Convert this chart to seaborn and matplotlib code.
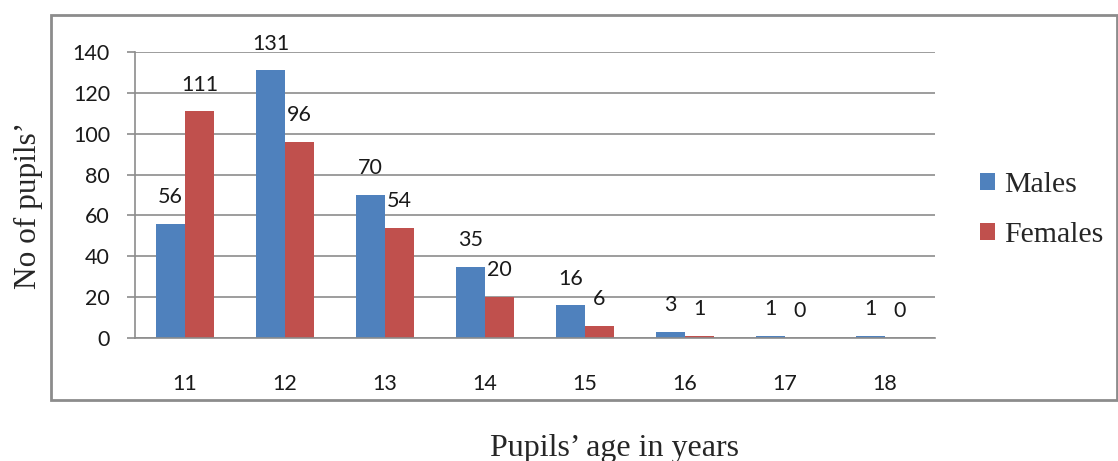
import pandas as pd
import seaborn as sns
import matplotlib.pyplot as plt
from matplotlib.patches import Rectangle, Patch

# Pupils per age, by sex
ages = ['11', '12', '13', '14', '15', '16', '17', '18']
males = [56, 131, 70, 35, 16, 3, 1, 1]
females = [111, 96, 54, 20, 6, 1, 0, 0]
series = ['Males', 'Females']
colors = ['#4F81BD', '#C0504D']

df = pd.DataFrame({
    'age': ages * 2,
    'sex': ['Males'] * len(ages) + ['Females'] * len(ages),
    'count': males + females,
})

sns.set_style("white")
plt.rcParams['font.family'] = ['Lato', 'DejaVu Sans']

fig = plt.figure(figsize=(11.18, 4.61), dpi=100)
ax = fig.add_axes([135 / 1118, 1 - 338 / 461, 800 / 1118, 286 / 461])

sns.barplot(data=df, x='age', y='count', hue='sex', hue_order=series,
            palette=colors, width=0.58, gap=0, saturation=1,
            edgecolor='none', ax=ax, legend=False)

for cont in ax.containers:
    ax.bar_label(cont, fmt='%d', padding=12, fontsize=15.5, color='#1a1a1a')

ax.set_ylim(0, 140)
ax.set_xlim(-0.5, len(ages) - 0.5)
ax.set_yticks(range(0, 141, 20))
ax.yaxis.grid(True, color='#8c8c8c', linewidth=1.2)
ax.set_axisbelow(True)
for s in ['top', 'right']:
    ax.spines[s].set_visible(False)
for s in ['left', 'bottom']:
    ax.spines[s].set_color('#8c8c8c')
    ax.spines[s].set_linewidth(1.2)

ax.set_xticks(range(len(ages)))
ax.set_xticklabels(ages)
ax.set_xticks([i - 0.5 for i in range(len(ages) + 1)], minor=True)
ax.tick_params(axis='x', which='major', length=0, pad=26, labelsize=15.5, labelcolor='#1a1a1a')
ax.tick_params(axis='x', which='minor', length=7, width=1.2, color='#8c8c8c', direction='out')
ax.tick_params(axis='y', length=6, width=1.2, color='#8c8c8c', direction='out',
               left=True, labelsize=15.5, labelcolor='#1a1a1a', pad=12)
ax.set_xlabel('')
ax.set_ylabel('')

# outer frame around the chart
fig.patches.append(Rectangle((51 / 1118, 1 - 400 / 461), 1066 / 1118, 385 / 461,
                             transform=fig.transFigure, fill=False,
                             edgecolor='#8c8c8c', linewidth=2))

handles = [Patch(facecolor=c, edgecolor='none') for c in colors]
fig.legend(handles, series, loc='center left', bbox_to_anchor=(980 / 1118, 1 - 210 / 461),
           frameon=False, prop={'family': 'Liberation Serif', 'size': 21.5},
           handlelength=0.5, handleheight=0.5, handletextpad=0.3,
           labelspacing=0.8, borderpad=0, borderaxespad=0)

fig.text(28 / 1118, 1 - 205 / 461, 'No of pupils\u2019', rotation=90, ha='center', va='center',
         family='Liberation Serif', fontsize=22.5)
fig.text(614 / 1118, 1 - 448 / 461, 'Pupils\u2019 age in years', ha='center', va='center',
         family='Liberation Serif', fontsize=23)

fig.savefig('out.png', dpi=100)
